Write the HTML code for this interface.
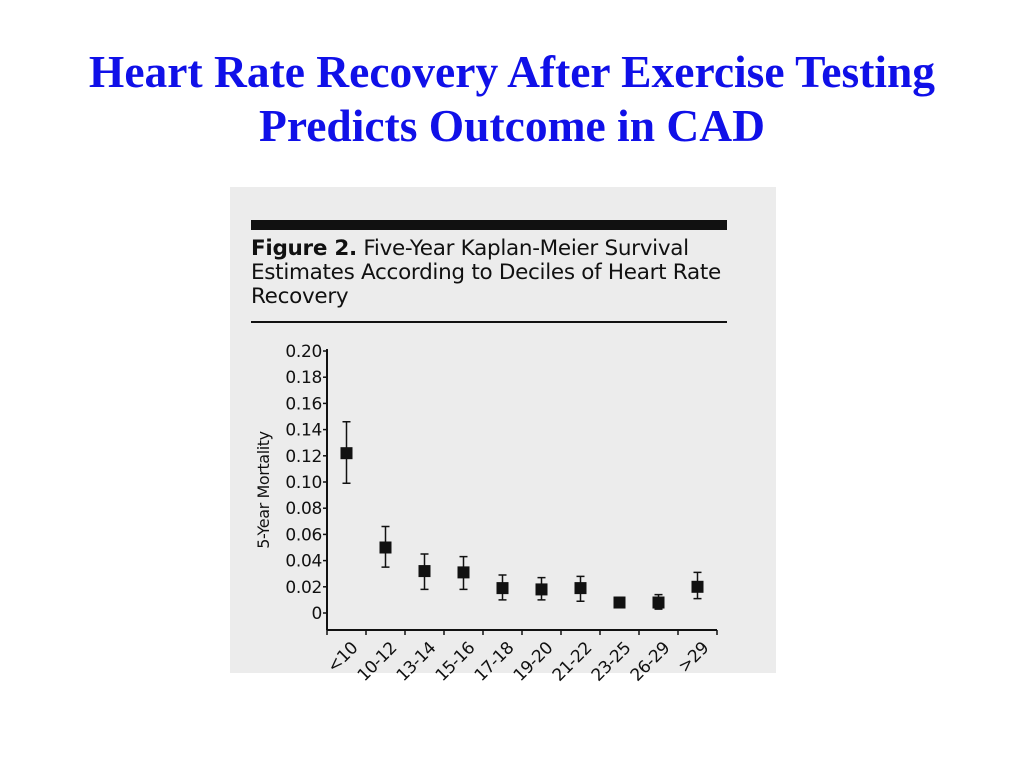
<!DOCTYPE html>
<html><head><meta charset="utf-8"><style>
body{margin:0;width:1024px;height:768px;background:#fff;position:relative;overflow:hidden}
#title{position:absolute;left:0;width:1024px;top:45px;text-align:center;font:bold 45.5px/54px "Liberation Serif",serif;color:#1010e8}
#panel{position:absolute;left:230px;top:187px;width:546px;height:486px;background:#ececec}
#cap{position:absolute;left:251px;top:237px;font:21.5px/24px "DejaVu Sans",sans-serif;color:#111;letter-spacing:-0.3px}
</style></head><body>
<div id="title">Heart Rate Recovery After Exercise Testing<br>Predicts Outcome in CAD</div>
<div id="panel"></div>
<div style="position:absolute;left:251px;top:220px;width:476px;height:10px;background:#111"></div>
<div id="cap"><b>Figure 2.</b> Five-Year Kaplan-Meier Survival<br>Estimates According to Deciles of Heart Rate<br>Recovery</div>
<div style="position:absolute;left:251px;top:321px;width:476px;height:2px;background:#111"></div>
<svg id="chart" width="1024" height="768" style="position:absolute;left:0;top:0"></svg>
<script>
const categories=["<10","10-12","13-14","15-16","17-18","19-20","21-22","23-25","26-29",">29"];
const values=[0.122,0.050,0.032,0.031,0.019,0.018,0.019,0.008,0.008,0.020];
const upper=[0.146,0.066,0.045,0.043,0.029,0.027,0.028,0.012,0.014,0.031];
const lower=[0.099,0.035,0.018,0.018,0.010,0.010,0.009,0.005,0.003,0.011];
const yTicks=[0,0.02,0.04,0.06,0.08,0.10,0.12,0.14,0.16,0.18,0.20];
const yTickLabels=["0","0.02","0.04","0.06","0.08","0.10","0.12","0.14","0.16","0.18","0.20"];
const svg=document.getElementById('chart');const NS="http://www.w3.org/2000/svg";
const x0=327,x1=717,y0=613,y1=351,axisY=630;
const Y=v=>y0-(v/0.20)*(y0-y1);
const step=(x1-x0)/categories.length;
const X=i=>x0+step*(i+0.5);
function el(t,a){const e=document.createElementNS(NS,t);for(const k in a)e.setAttribute(k,a[k]);svg.appendChild(e);return e;}
let e=el('line',{x1:x0,y1:y1-2,x2:x0,y2:axisY,stroke:'#111','stroke-width':2});


e=el('line',{x1:x0,y1:axisY,x2:x1,y2:axisY,stroke:'#111','stroke-width':2});


yTicks.forEach((v,i)=>{
 let t=el('line',{x1:x0-4,y1:Y(v),x2:x0,y2:Y(v),stroke:'#111','stroke-width':1.5});
 
 
 let l=el('text',{x:x0-5,y:Y(v)+6,'text-anchor':'end','font-family':'DejaVu Sans,sans-serif','font-size':17,fill:'#111','letter-spacing':'-0.3'});
 l.textContent=yTickLabels[i];
 
 
});
for(let i=0;i<=categories.length;i++){
 let t=el('line',{x1:x0+step*i,y1:axisY,x2:x0+step*i,y2:axisY+5,stroke:'#111','stroke-width':1.5});
 
 
}
categories.forEach((c,i)=>{
 const cx=X(i);
 let l=el('text',{x:cx+12,y:axisY+19,'text-anchor':'end','font-family':'DejaVu Sans,sans-serif','font-size':17,fill:'#111','letter-spacing':'-0.5',transform:`rotate(-45 ${cx+12} ${axisY+19})`});
 l.textContent=c;
 
 
 let b=el('path',{d:`M${cx},${Y(upper[i])}V${Y(lower[i])}M${cx-4},${Y(upper[i])}h8M${cx-4},${Y(lower[i])}h8`,stroke:'#111','stroke-width':1.5,fill:'none'});
 
 
 let m=el('rect',{x:cx-6,y:Y(values[i])-6,width:12,height:12,fill:'#111'});
 
 
});
let yt=el('text',{x:269,y:490,'text-anchor':'middle','font-family':'DejaVu Sans,sans-serif','font-size':16,fill:'#111','letter-spacing':'-0.4',transform:'rotate(-90 269 490)'});
yt.textContent="5-Year Mortality";


</script>
</body></html>
